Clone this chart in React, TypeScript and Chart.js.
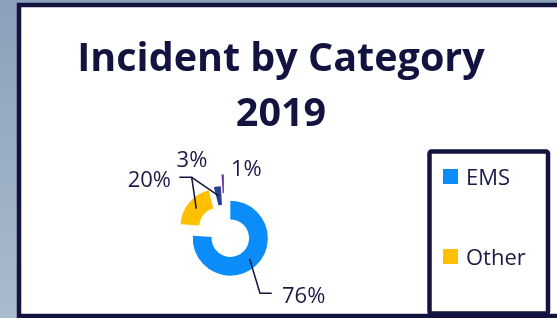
import React, { useEffect, useRef } from 'react';
import { Chart, registerables } from 'chart.js';

Chart.register(...registerables);

const titleLines = ['Incident by Category', '2019'];
const categories = ['EMS', 'Other', 'Category 3', 'Category 4'];
const values = [76, 20, 3, 1];
const legendCategories = ['EMS', 'Other'];

const sliceColors = ['#0A8DF8', '#FFC000', '#2B3F93', '#7030A0'];
const explode = [8.5, 8.5, 8.5, 20];
const NAVY = '#13133F';
const TEXT = '#1A1A48';

type LabelCfg = { x: number; y: number; align: CanvasTextAlign; line: number[][] };
// label anchors relative to the chart centre
const labelLayout: LabelCfg[] = [
  { x: 57.5, y: 71, align: 'left', line: [[35.5, 61.3], [47.2, 61.3]] },
  { x: -53.5, y: -45, align: 'right', line: [[-32.8, -54.7], [-45.2, -54.7]] },
  { x: -32.5, y: -65, align: 'center', line: [[-32.8, -54.7]] },
  { x: 6.5, y: -56, align: 'left', line: [] },
];

const framePlugin = {
  id: 'frame',
  beforeDraw(chart: any) {
    const { ctx, width, height } = chart;
    ctx.save();
    const g = ctx.createLinearGradient(0, 0, 0, height);
    g.addColorStop(0, '#8BA1B9');
    g.addColorStop(1, '#A9BBCD');
    ctx.fillStyle = g;
    ctx.fillRect(0, 0, width, height);
    ctx.fillStyle = '#FFFFFF';
    ctx.fillRect(19, 5, width, height);
    ctx.strokeStyle = NAVY;
    ctx.lineWidth = 4.5;
    ctx.strokeRect(19, 5, width + 10, 311);
    // legend box
    ctx.lineWidth = 4.5;
    ctx.beginPath();
    (ctx as any).roundRect(429.5, 151.5, 118.5, 162, 2);
    ctx.stroke();
    ctx.restore();
  },
  afterDatasetsUpdate(chart: any) {
    const meta = chart.getDatasetMeta(0);
    meta.data.forEach((arc: any, i: number) => {
      const mid = (arc.startAngle + arc.endAngle) / 2;
      arc.x += Math.cos(mid) * explode[i];
      arc.y += Math.sin(mid) * explode[i];
    });
  },
  afterDraw(chart: any) {
    const { ctx, chartArea } = chart;
    const cx = (chartArea.left + chartArea.right) / 2;
    const cy = (chartArea.top + chartArea.bottom) / 2;
    const meta = chart.getDatasetMeta(0);
    const total = values.reduce((a, b) => a + b, 0);
    ctx.save();
    // title
    ctx.fillStyle = NAVY;
    ctx.textAlign = 'center';
    ctx.textBaseline = 'alphabetic';
    ctx.font = 'bold 39.5px "Open Sans"';
    ctx.fillText(titleLines[0], 281, 71);
    ctx.fillText(titleLines[1], 281, 126);
    // leader lines and labels
    ctx.strokeStyle = NAVY;
    ctx.lineWidth = 1.5;
    meta.data.forEach((arc: any, i: number) => {
      const cfg = labelLayout[i];
      const mid = (arc.startAngle + arc.endAngle) / 2;
      const r = (arc.innerRadius + arc.outerRadius) / 2;
      if (cfg.line.length) {
        ctx.beginPath();
        ctx.moveTo(arc.x + Math.cos(mid) * r, arc.y + Math.sin(mid) * r);
        cfg.line.forEach((p) => ctx.lineTo(cx + p[0], cy + p[1]));
        ctx.stroke();
      }
      ctx.fillStyle = TEXT;
      ctx.font = '22px "Open Sans"';
      ctx.textAlign = cfg.align;
      ctx.fillText(Math.round((values[i] / total) * 100) + '%', cx + cfg.x, cy + cfg.y);
    });
    // legend
    ctx.font = '22px "Open Sans"';
    ctx.textAlign = 'left';
    legendCategories.forEach((name, k) => {
      const idx = categories.indexOf(name);
      const yc = 176.5 + k * 80;
      ctx.fillStyle = sliceColors[idx];
      ctx.fillRect(443, yc - 7.5, 15, 15);
      ctx.fillStyle = TEXT;
      ctx.fillText(name, 466, yc + 8);
    });
    ctx.restore();
  },
};

export default function App() {
  const ref = useRef<HTMLCanvasElement>(null);
  useEffect(() => {
    if (!ref.current) return;
    const chart = new Chart(ref.current, {
      type: 'doughnut',
      data: {
        labels: categories,
        datasets: [
          {
            data: values,
            backgroundColor: sliceColors,
            borderWidth: 0,
          },
        ],
      },
      options: {
        responsive: false,
        devicePixelRatio: 1,
        animation: false,
        radius: 37.5,
        cutout: '50%',
        layout: { padding: { left: 0, right: 108, top: 146, bottom: 0 } },
        plugins: {
          legend: { display: false },
          title: { display: false },
          tooltip: { enabled: false },
        },
      } as any,
      plugins: [framePlugin],
    });
    return () => chart.destroy();
  }, []);
  return (
    <div style={{ position: 'fixed', left: 0, top: 0, width: 557, height: 318 }}>
      <canvas ref={ref} width={557} height={318} style={{ width: 557, height: 318, display: 'block' }} />
    </div>
  );
}
